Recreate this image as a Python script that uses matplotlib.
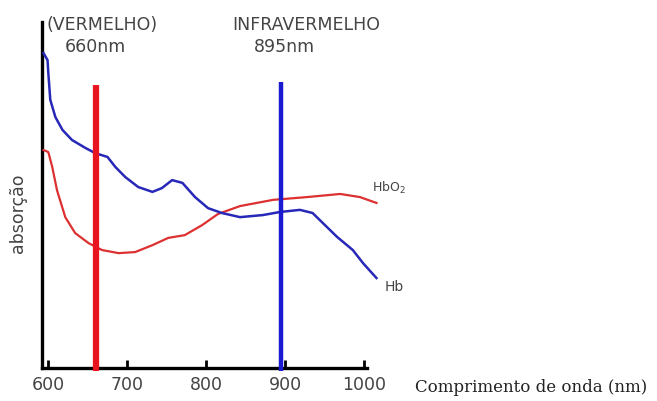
import numpy as np
import matplotlib
matplotlib.use('Agg')
import matplotlib.pyplot as plt

# Hb (desoxi-hemoglobina)
hb_nm = [594, 599, 600, 602.5, 609, 618, 630, 647, 659.5, 675, 685, 697.5, 714, 732, 744, 757,
         770, 786, 802.5, 820, 843, 872, 894, 919, 935, 948, 966, 986, 999, 1016]
hb_abs = [0.910, 0.890, 0.853, 0.775, 0.725, 0.688, 0.659, 0.636, 0.621, 0.610, 0.581, 0.552,
          0.523, 0.509, 0.520, 0.543, 0.535, 0.494, 0.462, 0.448, 0.436, 0.442, 0.451, 0.457,
          0.448, 0.419, 0.379, 0.341, 0.303, 0.260]

# HbO2 (oxi-hemoglobina)
hbo2_nm = [594, 600, 605, 611, 621.5, 634, 651, 668, 689, 710, 732, 752, 773, 795, 815, 843,
           885, 928, 970, 995, 1016]
hbo2_abs = [0.630, 0.624, 0.581, 0.514, 0.436, 0.390, 0.361, 0.341, 0.332, 0.335, 0.355, 0.376,
            0.384, 0.413, 0.445, 0.468, 0.486, 0.494, 0.503, 0.494, 0.477]

led_nm = [660, 895]
led_top = [0.818, 0.827]
led_cores = ['#e8141e', '#1a1ad0']
xticks = [600, 700, 800, 900, 1000]

W, H = 657, 401
fig = plt.figure(figsize=(W/100, H/100), dpi=100)
ax = fig.add_axes([42/W, 1-368/H, (367-42)/W, (368-22)/H])

ax.plot(hbo2_nm, hbo2_abs, color='#dd3030', lw=1.6, clip_on=False, zorder=3)
ax.plot(hb_nm, hb_abs, color='#2828b8', lw=1.8, clip_on=False, zorder=3)
for x, top, c, lw in zip(led_nm, led_top, led_cores, [4.5, 3.2]):
    ax.plot([x, x], [-0.01, top], color=c, lw=lw, solid_capstyle='butt', clip_on=False, zorder=4)

ax.set_xlim(592, 1004)
ax.set_ylim(0, 1)
ax.set_xticks(xticks)
ax.set_yticks([])
ax.tick_params(axis='x', direction='in', length=6, width=2, colors='black',
               labelcolor='#444444', labelsize=12.5, pad=6)
for s in ['top', 'right']:
    ax.spines[s].set_visible(False)
for s in ['left', 'bottom']:
    ax.spines[s].set_linewidth(2.4)
    ax.spines[s].set_color('black')

def txt(x, y, s, **kw):
    fig.text(x/W, 1-y/H, s, **kw)

g = '#444444'
txt(47, 25, '(VERMELHO)', fontsize=12.5, color=g, va='center')
txt(65, 47, '660nm', fontsize=12.5, color=g, va='center')
txt(232, 25, 'INFRAVERMELHO', fontsize=12.5, color=g, va='center')
txt(254, 47, '895nm', fontsize=12.5, color=g, va='center')
txt(372, 188, 'HbO$_2$', fontsize=9, color=g, va='center')
txt(385, 287, 'Hb', fontsize=10, color=g, va='center')
txt(18, 213, 'absorção', fontsize=12.5, color=g, va='center', ha='center', rotation=90)
txt(415, 388, 'Comprimento de onda (nm)', fontsize=12, color='#222222', va='center',
    family='DejaVu Serif')

fig.savefig('out.png', dpi=100)
